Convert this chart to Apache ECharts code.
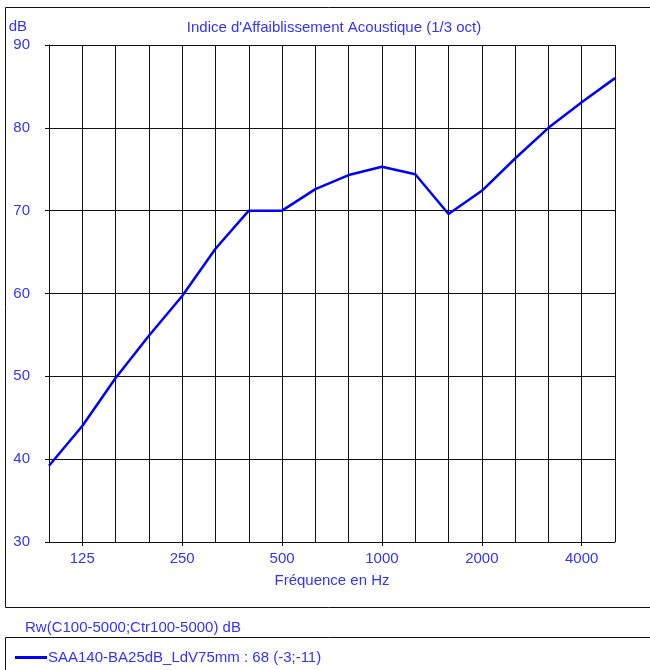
<!DOCTYPE html>
<html>
<head>
<meta charset="utf-8">
<script src="https://cdn.jsdelivr.net/npm/echarts@6/dist/echarts.min.js"></script>
<style>
html,body{margin:0;padding:0;background:#fff;}
#chart{width:650px;height:670px;}
</style>
</head>
<body>
<div id="chart"></div>
<script>
var frequencies = ['100','125','160','200','250','315','400','500','630','800','1000','1250','1600','2000','2500','3150','4000','5000'];
var reductionIndex = [39.2, 44.0, 49.8, 54.9, 59.7, 65.4, 70.0, 70.0, 72.6, 74.3, 75.3, 74.4, 69.6, 72.4, 76.3, 80.0, 83.1, 86.0];
var labeledFreqs = ['125','250','500','1000','2000','4000'];
var yTicks = [30, 40, 50, 60, 70, 80, 90];
var seriesName = 'SAA140-BA25dB_LdV75mm : 68 (-3;-11)';
var titleText = "Indice d'Affaiblissement Acoustique (1/3 oct)";
var xName = 'Fréquence en Hz';
var yName = 'dB';
var ratingText = 'Rw(C100-5000;Ctr100-5000) dB';

var textColor = '#3333ff';
var fontFamily = 'Liberation Sans, Arial, sans-serif';
var fs = 15;
var chart = echarts.init(document.getElementById('chart'), null, {renderer: 'canvas'});
function isLabeled(i){ return labeledFreqs.indexOf(frequencies[i]) >= 0; }

chart.setOption({
  animation: false,
  backgroundColor: '#fff',
  textStyle: {fontFamily: fontFamily},
  title: {
    text: titleText,
    left: 329, top: 15, textAlign: 'center',
    textStyle: {color: textColor, fontSize: fs, fontWeight: 'normal', fontFamily: fontFamily}
  },
  legend: {
    left: 10, top: 645,
    icon: 'rect', itemWidth: 32, itemHeight: 3,
    textStyle: {color: textColor, fontSize: fs, fontFamily: fontFamily, padding: [0,0,0,-4]},
    data: [seriesName]
  },
  grid: {left: 49, right: 35, top: 45, bottom: 128, containLabel: false},
  xAxis: {
    type: 'category',
    data: frequencies,
    boundaryGap: false,
    name: xName,
    nameLocation: 'middle',
    nameGap: 31,
    nameTextStyle: {color: textColor, fontSize: fs, fontFamily: fontFamily},
    axisLine: {show: true, lineStyle: {color: '#111', width: 1}},
    axisTick: {show: true, length: 4, interval: function(i){ return isLabeled(i); }, lineStyle: {color: '#111'}},
    axisLabel: {interval: function(i){ return isLabeled(i); }, color: textColor, fontSize: fs, margin: 9, fontFamily: fontFamily},
    splitLine: {show: true, interval: 0, lineStyle: {color: '#111', width: 1}}
  },
  yAxis: {
    type: 'value',
    min: yTicks[0], max: yTicks[yTicks.length-1], interval: 10,
    name: yName,
    nameLocation: 'end',
    nameGap: 18,
    nameTextStyle: {color: textColor, fontSize: fs, align: 'right', verticalAlign: 'middle', padding: [0, 22, 0, 0], fontFamily: fontFamily},
    axisLine: {show: true, lineStyle: {color: '#111', width: 1}},
    axisTick: {show: true, length: 4, lineStyle: {color: '#111'}},
    axisLabel: {color: textColor, fontSize: fs, margin: 19, fontFamily: fontFamily},
    splitLine: {show: true, lineStyle: {color: '#111', width: 1}}
  },
  graphic: [
    {type: 'rect', shape: {x: 5.5, y: 7.5, width: 700, height: 600}, style: {fill: 'none', stroke: '#111', lineWidth: 1}, z: -1},
    {type: 'rect', shape: {x: 5.5, y: 637.5, width: 700, height: 100}, style: {fill: 'none', stroke: '#111', lineWidth: 1}, z: -1},
    {type: 'text', left: 25, top: 620, style: {text: ratingText, fill: textColor, font: fs + 'px ' + fontFamily}}
  ],
  series: [{
    name: seriesName,
    type: 'line',
    data: reductionIndex,
    showSymbol: false,
    symbol: 'none',
    lineStyle: {color: '#0000ff', width: 2.5},
    itemStyle: {color: '#0000ff'},
    z: 5
  }]
});
</script>
</body>
</html>
